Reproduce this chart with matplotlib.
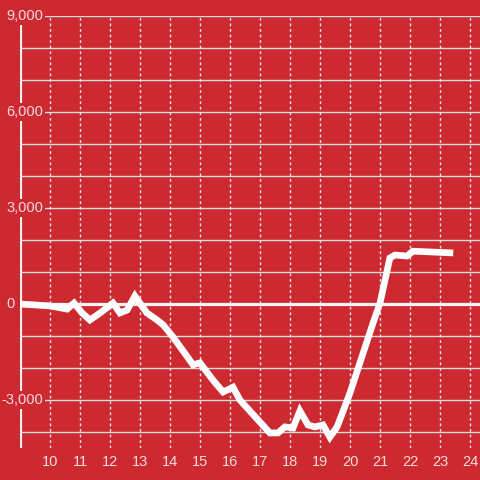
import matplotlib.pyplot as plt
import matplotlib.transforms as mtransforms

# hour of day vs. running balance
hours = [9.0, 10.0, 10.57, 10.8, 11.07, 11.33, 11.67, 12.1, 12.33, 12.57, 12.83,
         13.23, 13.57, 13.77, 14.1, 14.77, 15.0, 15.43, 15.77, 16.1, 16.33,
         17.33, 17.6, 17.83, 18.1, 18.33, 18.6, 18.83, 19.1, 19.33, 19.57,
         20.0, 20.33, 20.77, 21.0, 21.33, 21.5, 21.9, 22.1, 23.33]
values = [0, -60, -160, 30, -280, -500, -280, 30, -280, -190, 250,
          -280, -500, -650, -1030, -1900, -1840, -2375, -2750, -2600, -3000,
          -4030, -4030, -3840, -3875, -3340, -3780, -3840, -3780, -4160, -3840,
          -2780, -1840, -590, 30, 1440, 1530, 1500, 1650, 1600]
x_ticks = list(range(10, 25))
y_ticks = [-3000, 0, 3000, 6000, 9000]

bg = '#cc2a30'
txt = '#f6dcdc'
plt.rcParams['font.family'] = ['Liberation Sans', 'DejaVu Sans']

fig = plt.figure(figsize=(4.8, 4.8), dpi=100, facecolor=bg)
ax = fig.add_axes([20 / 480, 1 - 448 / 480, 460 / 480, 432 / 480])
ax.set_facecolor(bg)
ax.set_xlim(9, 9 + 460 / 30)
ax.set_ylim(-4500, 9000)

for s in ax.spines.values():
    s.set_visible(False)

# horizontal grid every 1000, vertical dashed grid every hour
for v in range(-4000, 9001, 1000):
    if v != 0:
        ax.axhline(v, color='#dcdcdc', lw=1, zorder=0.3)
for h in x_ticks:
    ax.axvline(h, color='#e6e6e6', lw=1, ls=(0, (2, 2)), zorder=0.3)
ax.axvline(9, color='#f2f2f2', lw=2.3, ymax=13250 / 13500, zorder=0.4)
ax.axhline(0, color='#f5f5f5', lw=2.3, zorder=2)

ax.plot(hours, values, color='white', lw=4.8, solid_capstyle='projecting',
        solid_joinstyle='miter', zorder=3)

ax.set_xticks(x_ticks)
ax.set_yticks([])
ax.tick_params(axis='x', length=0, labelsize=10.5, labelcolor=txt, pad=5)

# y labels drawn over the axis line with a background box
trans = mtransforms.blended_transform_factory(fig.dpi_scale_trans, ax.transData)
for v in y_ticks:
    if v == 0:
        ax.text(15 / 100, v, '0', transform=trans, ha='right', va='center',
                fontsize=10.5, color=txt, zorder=1)
    else:
        ax.text(43 / 100, v, f'{v:,}', transform=trans, ha='right', va='center',
                fontsize=10.5, color=txt, zorder=1,
                bbox=dict(facecolor=bg, edgecolor='none', pad=1.5))

fig.savefig('out.png', dpi=100, facecolor=bg)
